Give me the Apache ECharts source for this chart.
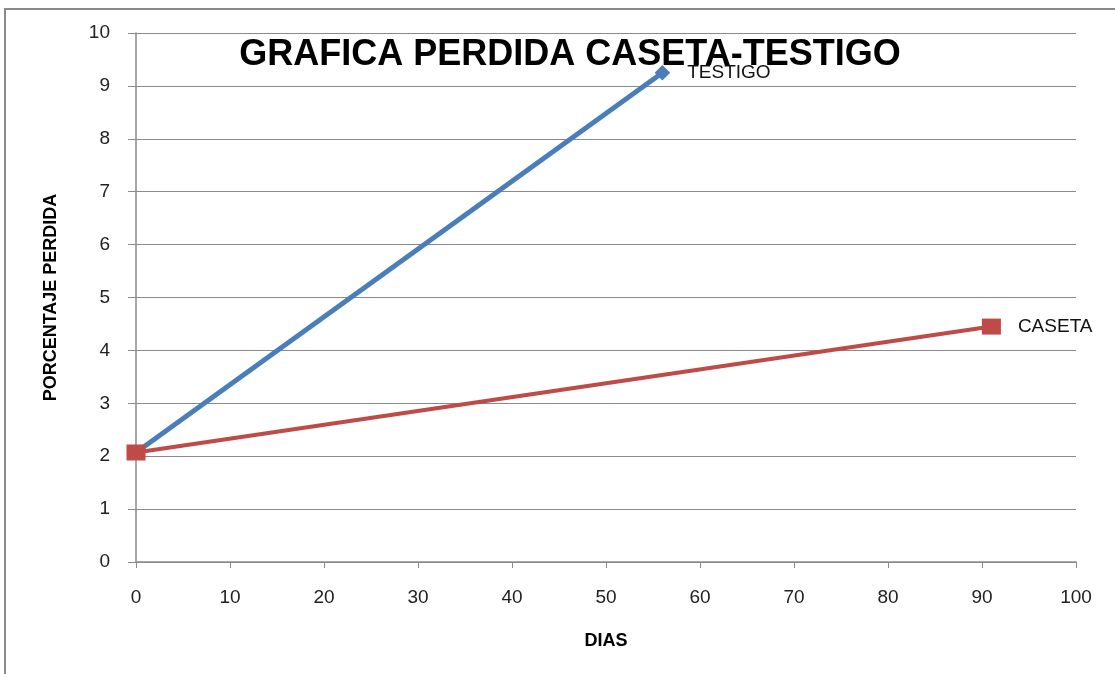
<!DOCTYPE html>
<html>
<head>
<meta charset="utf-8">
<script src="https://cdn.jsdelivr.net/npm/echarts@6/dist/echarts.min.js"></script>
<style>
html,body{margin:0;padding:0;background:#fff;}
#c{width:1115px;height:674px;}
</style>
</head>
<body>
<div id="c"></div>
<script>
const titleText = "GRAFICA PERDIDA CASETA-TESTIGO";
const xAxisName = "DIAS";
const yAxisName = "PORCENTAJE PERDIDA";
const testigoName = "TESTIGO";
const casetaName = "CASETA";
const testigoDays = [0, 56];
const testigoValues = [2.07, 9.25];
const casetaDays = [0, 91];
const casetaValues = [2.07, 4.45];

const chart = echarts.init(document.getElementById('c'));
const font = "'Liberation Sans', Arial, sans-serif";
function pairs(xs, ys){ return xs.map((x,i)=>[x, ys[i]]); }
function lastLabel(name, n){
  return {
    show: true, position: 'right', distance: 17,
    formatter: p => p.dataIndex === n-1 ? name : '',
    color: '#111', fontSize: 19, fontFamily: font
  };
}
chart.setOption({
  backgroundColor: '#fff',
  animation: false,
  title: {
    text: titleText, left: 565, top: 32, textAlign: 'center',
    textStyle: {fontSize: 36, fontWeight: 'bold', color: '#000', fontFamily: font}
  },
  graphic: [{
    type: 'rect', shape: {x: 5, y: 9, width: 1200, height: 800},
    style: {fill: 'none', stroke: '#8a8a8a', lineWidth: 2}, z: -1
  }],
  grid: {left: 136, right: 39, top: 33, bottom: 112, containLabel: false},
  xAxis: {
    type: 'value', min: 0, max: 100, interval: 10,
    name: xAxisName, nameLocation: 'middle', nameGap: 70,
    nameTextStyle: {fontSize: 18, fontWeight: 'bold', color: '#000', fontFamily: font},
    axisLine: {show: true, onZero: false, lineStyle: {color: '#8a8a8a', width: 1.5}},
    axisTick: {show: true, length: 6, lineStyle: {color: '#8a8a8a'}},
    axisLabel: {fontSize: 19, color: '#222', margin: 26, fontFamily: font},
    splitLine: {show: false}
  },
  yAxis: {
    type: 'value', min: 0, max: 10, interval: 1,
    name: yAxisName, nameLocation: 'middle', nameGap: 76, nameRotate: 90,
    nameTextStyle: {fontSize: 18, fontWeight: 'bold', color: '#000', fontFamily: font},
    axisLine: {show: true, lineStyle: {color: '#8a8a8a', width: 1.5}},
    axisTick: {show: true, length: 8, lineStyle: {color: '#8a8a8a'}},
    axisLabel: {fontSize: 19, color: '#222', margin: 26, fontFamily: font},
    splitLine: {show: true, lineStyle: {color: '#8a8a8a', width: 1}}
  },
  series: [
    {
      name: testigoName, type: 'line', data: pairs(testigoDays, testigoValues),
      lineStyle: {color: '#4a7ebb', width: 5},
      itemStyle: {color: '#4a7ebb'},
      symbol: 'rect', symbolSize: 11, symbolRotate: 45, showAllSymbol: true,
      label: lastLabel(testigoName, testigoDays.length)
    },
    {
      name: casetaName, type: 'line', data: pairs(casetaDays, casetaValues),
      lineStyle: {color: '#be4b48', width: 4},
      itemStyle: {color: '#be4b48'},
      symbol: 'rect', symbolSize: [19, 16], showAllSymbol: true,
      label: lastLabel(casetaName, casetaDays.length)
    }
  ]
});
</script>
</body>
</html>
